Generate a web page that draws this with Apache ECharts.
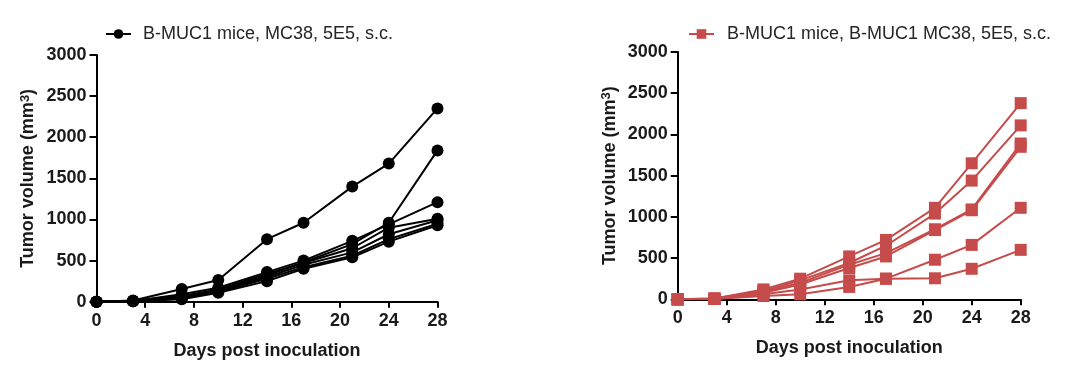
<!DOCTYPE html>
<html>
<head>
<meta charset="utf-8">
<script src="https://cdn.jsdelivr.net/npm/echarts@6/dist/echarts.min.js"></script>
<style>
html,body{margin:0;padding:0;background:#fff;}
#c{width:1080px;height:374px;}
</style>
</head>
<body>
<div id="c"></div>
<script>
// Days of measurement (shared by both panels)
const days = [0, 3, 7, 10, 14, 17, 21, 24, 28];
const xTicks = [0, 4, 8, 12, 16, 20, 24, 28];
const yTicks = [0, 500, 1000, 1500, 2000, 2500, 3000];

// Left panel: B-MUC1 mice, MC38 (individual mice)
const leftName = 'B-MUC1 mice, MC38, 5E5, s.c.';
const left1 = [0, 15, 155, 265, 760, 960, 1400, 1680, 2350];
const left2 = [0, 10, 60, 140, 320, 480, 700, 960, 1840];
const left3 = [0, 10, 90, 170, 360, 500, 740, 940, 1210];
const left4 = [0, 10, 70, 150, 340, 470, 650, 900, 1010];
const left5 = [0, 5, 50, 130, 300, 450, 600, 820, 990];
const left6 = [0, 5, 40, 120, 280, 420, 560, 760, 950];
const left7 = [0, 5, 30, 110, 250, 400, 540, 730, 930];

// Right panel: B-MUC1 mice, B-MUC1 MC38 (individual mice)
const rightName = 'B-MUC1 mice, B-MUC1 MC38, 5E5, s.c.';
const right1 = [0, 10, 120, 250, 520, 720, 1110, 1650, 2380];
const right2 = [0, 10, 100, 230, 440, 650, 1040, 1440, 2110];
const right3 = [0, 5, 90, 200, 420, 560, 850, 1090, 1890];
const right4 = [0, 5, 80, 180, 380, 520, 840, 1080, 1850];
const right5 = [0, 5, 60, 120, 230, 250, 480, 660, 1110];
const right6 = [0, 5, 40, 60, 150, 250, 255, 370, 600];

const leftSeries = [left1, left2, left3, left4, left5, left6, left7];
const rightSeries = [right1, right2, right3, right4, right5, right6];

const BLACK = '#000000';
const RED = '#c64b4b';
const FONT = '"Liberation Sans", Arial, sans-serif';

function pairs(vals) { return days.map((d, i) => [d, vals[i]]); }

function xAxis(gi) {
  return {
    type: 'value', gridIndex: gi, min: 0, max: 28, interval: 4,
    name: 'Days post inoculation', nameLocation: 'middle', nameGap: 40,
    nameTextStyle: { fontFamily: FONT, fontWeight: 'bold', fontSize: 18, color: '#1a1a1a' },
    axisLine: { show: true, onZero: false, lineStyle: { color: BLACK, width: 2 } },
    axisTick: { show: true, length: 6, lineStyle: { color: BLACK, width: 2 } },
    axisLabel: { margin: 10, fontFamily: FONT, fontWeight: 'bold', fontSize: 18, color: '#1a1a1a',
      formatter: v => String(v) },
    splitLine: { show: false }
  };
}
function yAxis(gi) {
  return {
    type: 'value', gridIndex: gi, min: 0, max: 3000, interval: 500,
    name: 'Tumor volume (mm{s|3})', nameLocation: 'middle', nameGap: 58, nameRotate: 90,
    nameTextStyle: { fontFamily: FONT, fontWeight: 'bold', fontSize: 18, color: '#1a1a1a',
      rich: { s: { fontFamily: FONT, fontWeight: 'bold', fontSize: 13, color: '#1a1a1a',
                   verticalAlign: 'top', padding: [0, 0, 7, 0] } } },
    axisLine: { show: true, lineStyle: { color: BLACK, width: 2 } },
    axisTick: { show: true, length: 7, lineStyle: { color: BLACK, width: 2 } },
    axisLabel: { margin: 10, fontFamily: FONT, fontWeight: 'bold', fontSize: 18, color: '#1a1a1a',
      formatter: v => String(v) },
    splitLine: { show: false }
  };
}

const series = [];
leftSeries.forEach(v => series.push({
  type: 'line', name: leftName, xAxisIndex: 0, yAxisIndex: 0, data: pairs(v),
  symbol: 'circle', symbolSize: 12, showAllSymbol: true,
  lineStyle: { color: BLACK, width: 2 }, itemStyle: { color: BLACK },
  emphasis: { disabled: true }, animation: false
}));
rightSeries.forEach(v => series.push({
  type: 'line', name: rightName, xAxisIndex: 1, yAxisIndex: 1, data: pairs(v),
  symbol: 'rect', symbolSize: 12, showAllSymbol: true,
  lineStyle: { color: RED, width: 2 }, itemStyle: { color: RED },
  emphasis: { disabled: true }, animation: false
}));

const chart = echarts.init(document.getElementById('c'), null, { renderer: 'canvas' });
chart.setOption({
  backgroundColor: '#ffffff',
  animation: false,
  grid: [
    { left: 96.5, top: 55, width: 341, height: 246.7, containLabel: false },
    { left: 677.7, top: 52, width: 343, height: 247.3, containLabel: false }
  ],
  legend: [
    { data: [leftName], left: 105, top: 25, padding: 0, itemWidth: 25, itemHeight: 12,
      textStyle: { fontFamily: FONT, fontSize: 18, color: '#262626', padding: [0, 0, 0, 7] } },
    { data: [rightName], left: 688, top: 25, padding: 0, itemWidth: 25, itemHeight: 12,
      textStyle: { fontFamily: FONT, fontSize: 18, color: '#262626', padding: [0, 0, 0, 8] } }
  ],
  xAxis: [xAxis(0), xAxis(1)],
  yAxis: [yAxis(0), yAxis(1)],
  series: series
});
</script>
</body>
</html>
